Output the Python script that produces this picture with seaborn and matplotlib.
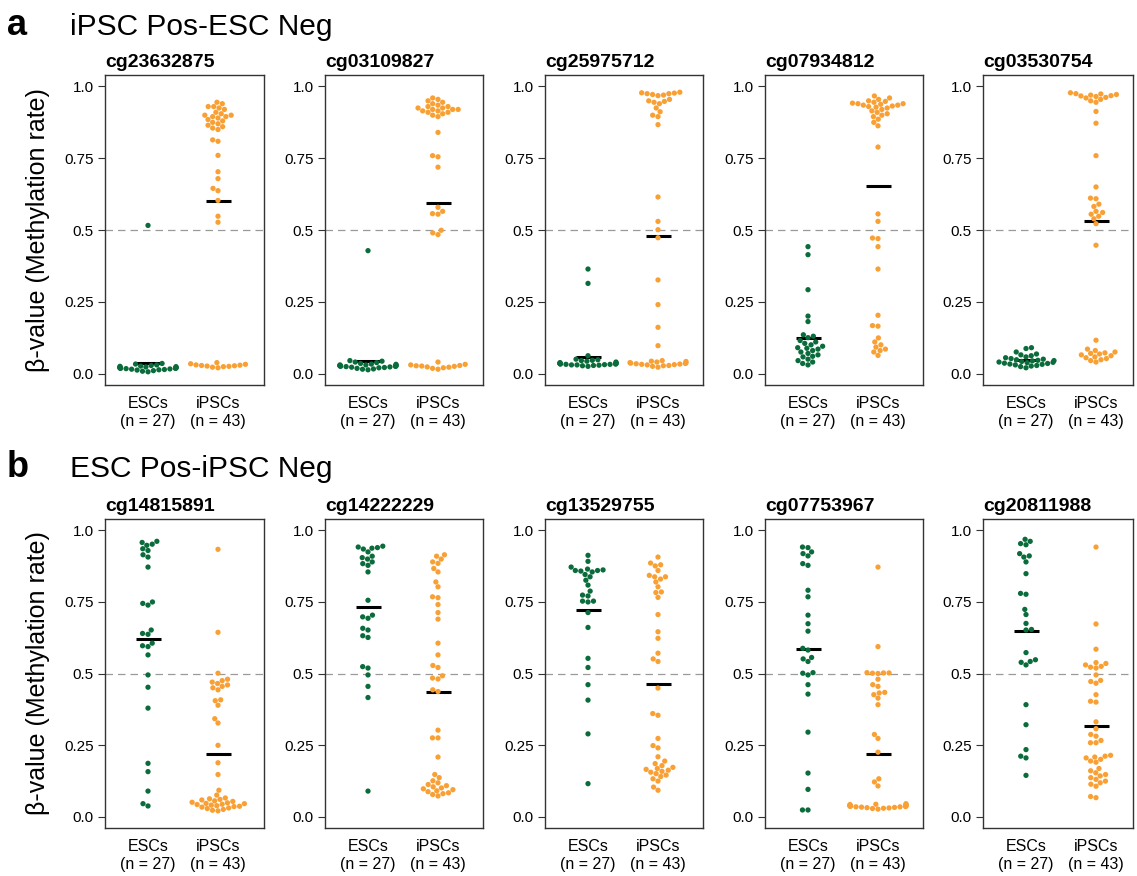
import pandas as pd
import matplotlib
matplotlib.use('Agg')
import matplotlib.pyplot as plt
import seaborn as sns

# ----------------------------
# Beta values (ESCs n=27, iPSCs n=43)
# ----------------------------
# a: iPSC Pos-ESC Neg
esc_cg23632875 = [0.516, 0.035, 0.033, 0.030, 0.028, 0.026, 0.025, 0.024, 0.023, 0.022, 0.022, 0.021, 0.020, 0.020,
                  0.019, 0.019, 0.018, 0.018, 0.017, 0.016, 0.015, 0.014, 0.013, 0.012, 0.010, 0.008, 0.006]
ipsc_cg23632875 = [0.945, 0.940, 0.930, 0.930, 0.925, 0.920, 0.910, 0.905, 0.900, 0.900, 0.895, 0.895, 0.890, 0.885,
                   0.880, 0.875, 0.870, 0.865, 0.860, 0.855, 0.850, 0.814, 0.809, 0.760, 0.703, 0.679, 0.645, 0.637,
                   0.603, 0.548, 0.527, 0.038, 0.034, 0.032, 0.030, 0.029, 0.028, 0.027, 0.026, 0.025, 0.024, 0.022,
                   0.020]

esc_cg03109827 = [0.428, 0.045, 0.043, 0.040, 0.038, 0.035, 0.033, 0.032, 0.030, 0.030, 0.029, 0.028, 0.028, 0.027,
                  0.027, 0.026, 0.025, 0.025, 0.024, 0.023, 0.022, 0.021, 0.020, 0.018, 0.016, 0.015, 0.013]
ipsc_cg03109827 = [0.960, 0.955, 0.950, 0.945, 0.940, 0.935, 0.930, 0.930, 0.925, 0.925, 0.920, 0.920, 0.920, 0.915,
                   0.915, 0.910, 0.910, 0.905, 0.900, 0.895, 0.840, 0.759, 0.755, 0.719, 0.579, 0.565, 0.557, 0.555,
                   0.499, 0.490, 0.484, 0.040, 0.032, 0.030, 0.028, 0.027, 0.026, 0.025, 0.023, 0.022, 0.020, 0.018,
                   0.015]

esc_cg25975712 = [0.364, 0.314, 0.062, 0.050, 0.048, 0.046, 0.045, 0.043, 0.040, 0.038, 0.037, 0.036, 0.035, 0.035,
                  0.034, 0.034, 0.033, 0.033, 0.032, 0.032, 0.031, 0.030, 0.030, 0.029, 0.028, 0.027, 0.025]
ipsc_cg25975712 = [0.980, 0.978, 0.977, 0.975, 0.975, 0.972, 0.970, 0.968, 0.955, 0.950, 0.948, 0.945, 0.940, 0.925,
                   0.912, 0.900, 0.895, 0.867, 0.615, 0.530, 0.501, 0.473, 0.326, 0.240, 0.161, 0.097, 0.045, 0.043,
                   0.042, 0.040, 0.038, 0.037, 0.036, 0.035, 0.034, 0.033, 0.032, 0.031, 0.030, 0.028, 0.027, 0.025,
                   0.022]

esc_cg07934812 = [0.442, 0.414, 0.292, 0.200, 0.181, 0.135, 0.130, 0.125, 0.115, 0.110, 0.105, 0.100, 0.095, 0.090,
                  0.088, 0.085, 0.080, 0.075, 0.070, 0.065, 0.060, 0.058, 0.050, 0.045, 0.040, 0.035, 0.030]
ipsc_cg07934812 = [0.967, 0.960, 0.955, 0.950, 0.948, 0.945, 0.942, 0.940, 0.940, 0.938, 0.935, 0.935, 0.932, 0.930,
                   0.928, 0.925, 0.920, 0.915, 0.910, 0.905, 0.900, 0.895, 0.886, 0.875, 0.863, 0.789, 0.556, 0.530,
                   0.472, 0.470, 0.442, 0.364, 0.203, 0.167, 0.165, 0.124, 0.110, 0.100, 0.092, 0.085, 0.080, 0.075,
                   0.063]

esc_cg03530754 = [0.090, 0.087, 0.075, 0.068, 0.065, 0.062, 0.058, 0.055, 0.052, 0.050, 0.048, 0.046, 0.045, 0.044,
                  0.042, 0.040, 0.039, 0.038, 0.036, 0.035, 0.033, 0.032, 0.030, 0.028, 0.026, 0.024, 0.020]
ipsc_cg03530754 = [0.978, 0.975, 0.974, 0.972, 0.970, 0.968, 0.967, 0.965, 0.962, 0.960, 0.955, 0.950, 0.945, 0.913,
                   0.872, 0.759, 0.650, 0.611, 0.609, 0.590, 0.582, 0.565, 0.561, 0.555, 0.548, 0.539, 0.522, 0.447,
                   0.116, 0.085, 0.080, 0.075, 0.072, 0.070, 0.068, 0.065, 0.062, 0.058, 0.055, 0.052, 0.048, 0.045,
                   0.040]

# b: ESC Pos-iPSC Neg
esc_cg14815891 = [0.962, 0.958, 0.952, 0.948, 0.936, 0.930, 0.915, 0.907, 0.872, 0.750, 0.745, 0.739, 0.652, 0.640,
                  0.637, 0.606, 0.597, 0.594, 0.565, 0.495, 0.452, 0.379, 0.186, 0.157, 0.089, 0.045, 0.037]
ipsc_cg14815891 = [0.934, 0.644, 0.501, 0.480, 0.475, 0.470, 0.465, 0.460, 0.455, 0.450, 0.443, 0.408, 0.405, 0.389,
                   0.342, 0.327, 0.249, 0.188, 0.147, 0.092, 0.075, 0.065, 0.062, 0.060, 0.058, 0.055, 0.053, 0.050,
                   0.048, 0.046, 0.045, 0.043, 0.042, 0.040, 0.038, 0.036, 0.035, 0.033, 0.030, 0.028, 0.025, 0.022,
                   0.020]

esc_cg14222229 = [0.945, 0.942, 0.940, 0.938, 0.935, 0.925, 0.910, 0.905, 0.900, 0.890, 0.884, 0.878, 0.855, 0.756,
                  0.704, 0.698, 0.693, 0.658, 0.652, 0.632, 0.626, 0.524, 0.519, 0.495, 0.455, 0.416, 0.089]
ipsc_cg14222229 = [0.915, 0.910, 0.900, 0.890, 0.885, 0.867, 0.855, 0.820, 0.803, 0.768, 0.765, 0.741, 0.713, 0.690,
                   0.606, 0.565, 0.528, 0.521, 0.492, 0.484, 0.481, 0.443, 0.437, 0.302, 0.275, 0.275, 0.208, 0.147,
                   0.136, 0.125, 0.118, 0.112, 0.108, 0.104, 0.100, 0.097, 0.094, 0.090, 0.087, 0.083, 0.080, 0.077,
                   0.072]

esc_cg13529755 = [0.913, 0.892, 0.872, 0.865, 0.862, 0.860, 0.860, 0.858, 0.855, 0.846, 0.838, 0.826, 0.809, 0.788,
                  0.774, 0.771, 0.753, 0.753, 0.750, 0.713, 0.661, 0.553, 0.521, 0.461, 0.407, 0.289, 0.115]
ipsc_cg13529755 = [0.907, 0.886, 0.880, 0.876, 0.860, 0.843, 0.838, 0.838, 0.830, 0.820, 0.803, 0.785, 0.783, 0.766,
                   0.706, 0.646, 0.623, 0.571, 0.551, 0.542, 0.449, 0.360, 0.354, 0.273, 0.248, 0.240, 0.209, 0.194,
                   0.185, 0.178, 0.172, 0.168, 0.165, 0.162, 0.158, 0.155, 0.150, 0.145, 0.140, 0.132, 0.124, 0.103,
                   0.092]

esc_cg07753967 = [0.942, 0.940, 0.925, 0.919, 0.911, 0.884, 0.878, 0.791, 0.768, 0.704, 0.674, 0.648, 0.588, 0.582,
                  0.556, 0.551, 0.542, 0.503, 0.501, 0.495, 0.461, 0.428, 0.295, 0.152, 0.095, 0.023, 0.023]
ipsc_cg07753967 = [0.872, 0.594, 0.503, 0.502, 0.502, 0.501, 0.500, 0.480, 0.461, 0.455, 0.434, 0.432, 0.426, 0.414,
                   0.391, 0.287, 0.273, 0.225, 0.132, 0.121, 0.107, 0.045, 0.043, 0.042, 0.041, 0.040, 0.040, 0.039,
                   0.038, 0.038, 0.037, 0.036, 0.036, 0.035, 0.034, 0.034, 0.033, 0.032, 0.031, 0.030, 0.029, 0.028,
                   0.026]

esc_cg20811988 = [0.969, 0.962, 0.954, 0.950, 0.919, 0.911, 0.907, 0.890, 0.849, 0.780, 0.777, 0.724, 0.706, 0.675,
                  0.654, 0.652, 0.573, 0.548, 0.542, 0.539, 0.530, 0.391, 0.321, 0.234, 0.211, 0.205, 0.144]
ipsc_cg20811988 = [0.942, 0.673, 0.585, 0.538, 0.535, 0.530, 0.525, 0.522, 0.519, 0.495, 0.476, 0.472, 0.466, 0.426,
                   0.403, 0.400, 0.331, 0.307, 0.287, 0.281, 0.266, 0.258, 0.258, 0.214, 0.211, 0.208, 0.205, 0.200,
                   0.194, 0.190, 0.168, 0.160, 0.153, 0.147, 0.142, 0.136, 0.130, 0.124, 0.118, 0.113, 0.106, 0.070,
                   0.066]

row_a_probes = ['cg23632875', 'cg03109827', 'cg25975712', 'cg07934812', 'cg03530754']
row_b_probes = ['cg14815891', 'cg14222229', 'cg13529755', 'cg07753967', 'cg20811988']
cells = ['ESCs', 'iPSCs']
palette = {'ESCs': '#0a6b3b', 'iPSCs': '#f9a035'}

values = {
    'cg23632875': (esc_cg23632875, ipsc_cg23632875),
    'cg03109827': (esc_cg03109827, ipsc_cg03109827),
    'cg25975712': (esc_cg25975712, ipsc_cg25975712),
    'cg07934812': (esc_cg07934812, ipsc_cg07934812),
    'cg03530754': (esc_cg03530754, ipsc_cg03530754),
    'cg14815891': (esc_cg14815891, ipsc_cg14815891),
    'cg14222229': (esc_cg14222229, ipsc_cg14222229),
    'cg13529755': (esc_cg13529755, ipsc_cg13529755),
    'cg07753967': (esc_cg07753967, ipsc_cg07753967),
    'cg20811988': (esc_cg20811988, ipsc_cg20811988),
}

records = []
for probe, (esc, ipsc) in values.items():
    records += [(probe, 'ESCs', v) for v in esc]
    records += [(probe, 'iPSCs', v) for v in ipsc]
df = pd.DataFrame(records, columns=['probe', 'cell', 'beta'])

# ----------------------------
# Figure
# ----------------------------
sns.set_style('ticks')
plt.rcParams['font.family'] = ['Liberation Sans', 'DejaVu Sans']
plt.rcParams['text.color'] = 'black'
plt.rcParams['axes.labelcolor'] = 'black'
plt.rcParams['xtick.color'] = 'black'
plt.rcParams['ytick.color'] = 'black'

W, H = 1137, 876
fig = plt.figure(figsize=(W / 100, H / 100), dpi=100)

lefts = [105, 325, 545, 765, 983]
widths = [159, 158, 158, 158, 150]
rows = [
    (75, 310, row_a_probes, 'a', 'iPSC Pos-ESC Neg', 35),
    (519, 309, row_b_probes, 'b', 'ESC Pos-iPSC Neg', 477),
]

for top, height, probes, letter, header, base in rows:
    fig.text(7 / W, 1 - base / H, letter, fontsize=26, fontweight='bold', va='baseline')
    fig.text(70 / W, 1 - base / H, header, fontsize=21.5, va='baseline')

    for i, probe in enumerate(probes):
        ax = fig.add_axes([lefts[i] / W, 1 - (top + height) / H, widths[i] / W, height / H])
        sub = df[df['probe'] == probe]

        ax.axhline(0.5, color='#9a9a9a', lw=0.9, ls=(0, (6, 4)), zorder=0)
        sns.swarmplot(data=sub, x='cell', y='beta', hue='cell', order=cells, hue_order=cells,
                      palette=palette, size=3.8, warn_thresh=1, legend=False, ax=ax)
        sns.pointplot(data=sub, x='cell', y='beta', order=cells, estimator='mean', errorbar=None,
                      color='black', markers='_', markersize=18, markeredgewidth=2.2,
                      linestyle='none', ax=ax)

        counts = sub.groupby('cell')['beta'].count()
        ax.set_xticks([0, 1])
        ax.set_xticklabels([f'{c}\n(n = {counts[c]})' for c in cells])
        ax.set_xlim(-43 / 70, (widths[i] - 43) / 70)
        ax.set_ylim(-0.04, 1.04)
        ax.set_yticks([0, 0.25, 0.5, 0.75, 1.0])
        ax.set_yticklabels(['0.0', '0.25', '0.5', '0.75', '1.0'])
        ax.set_xlabel('')
        ax.set_ylabel('β-value (Methylation rate)' if i == 0 else '', fontsize=18, labelpad=10)
        ax.set_title(probe, loc='left', fontsize=14, fontweight='bold', pad=6)

        ax.tick_params(axis='y', length=5, width=0.8, labelsize=11, pad=3, color='#333333')
        ax.tick_params(axis='x', length=0, labelsize=11.5, pad=8)
        for sp in ax.spines.values():
            sp.set_color('#333333')
            sp.set_linewidth(1.0)

fig.savefig('out.png', dpi=100)
